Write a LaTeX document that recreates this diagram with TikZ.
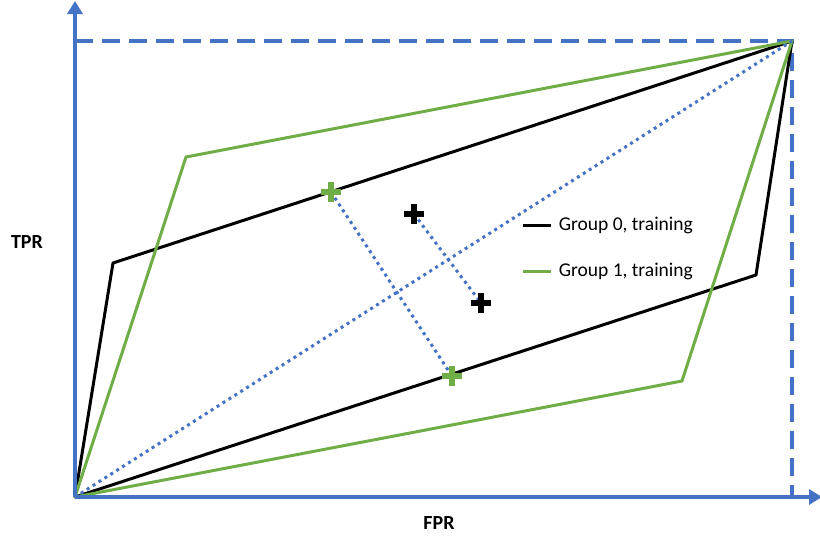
\documentclass[tikz,border=0pt]{standalone}
\usepackage{fontspec}
\setmainfont{Carlito}
\usetikzlibrary{arrows.meta,shapes.misc}
\definecolor{axisblue}{RGB}{68,114,196}
\definecolor{grpgreen}{RGB}{112,173,71}
\tikzset{
  axis/.style={axisblue,line width=4pt,-{Triangle[width=15pt,length=13pt]}},
  bound/.style={axisblue,line width=4pt,dash pattern=on 18pt off 9pt},
  link/.style={axisblue,line width=3pt,dash pattern=on 3pt off 4pt},
  hull/.style={line width=3pt,line join=round},
  dotmark/.style={cross out,draw,rotate=45,line width=6pt,minimum size=8pt,inner sep=0pt},
  lbl/.style={font=\fontsize{19.5}{22}\selectfont},
  axlbl/.style={font=\fontsize{20}{24}\selectfont\bfseries},
}
\begin{document}
\begin{tikzpicture}[x=1pt,y=-1pt]
  \useasboundingbox (0,0) rectangle (820,539);
  % corners of the unit square
  \coordinate (o) at (75,497);
  \coordinate (one) at (792,41);
  \coordinate (xtip) at (822,497);
  \coordinate (ytip) at (75,1);
  \coordinate (tl) at (75,41);
  \coordinate (br) at (792,497);
  % outer bounds
  \draw[bound] (tl)--(one)--(br);
  % group 0
  \coordinate (b1) at (113,263);
  \coordinate (b2) at (756,275);
  \draw[hull] (o)--(b1)--(one)--(b2)--cycle;
  % group 1
  \coordinate (g1) at (186,157);
  \coordinate (g2) at (682,381);
  \draw[hull,grpgreen] (o)--(g1)--(one)--(g2)--cycle;
  % diagonal and links
  \draw[link] (o)--(one);
  \coordinate (ga) at (331,192);
  \coordinate (gb) at (452,376);
  \coordinate (ka) at (414,214);
  \coordinate (kb) at (481,303);
  \draw[link] (ga)--(gb);
  \draw[link] (ka)--(kb);
  \node[dotmark,grpgreen] (ma) at (ga) {};
  \node[dotmark,grpgreen] (mb) at (gb) {};
  \node[dotmark,black] (mc) at (ka) {};
  \node[dotmark,black] (md) at (kb) {};
  % axes
  \draw[axis] (o)--(xtip);
  \draw[axis] (o)--(ytip);
  \node[axlbl] (tpr) at (27,242) {TPR};
  \node[axlbl] (fpr) at (439,523) {FPR};
  % legend
  \coordinate (l0) at (523,225);
  \coordinate (l1) at (523,271);
  \draw[line width=3pt] (l0)--++(28,0) node[lbl,right=3pt,black] (t0) {Group 0, training};
  \draw[line width=3pt,grpgreen] (l1)--++(28,0) node[lbl,right=3pt,black] (t1) {Group 1, training};
\end{tikzpicture}
\end{document}
